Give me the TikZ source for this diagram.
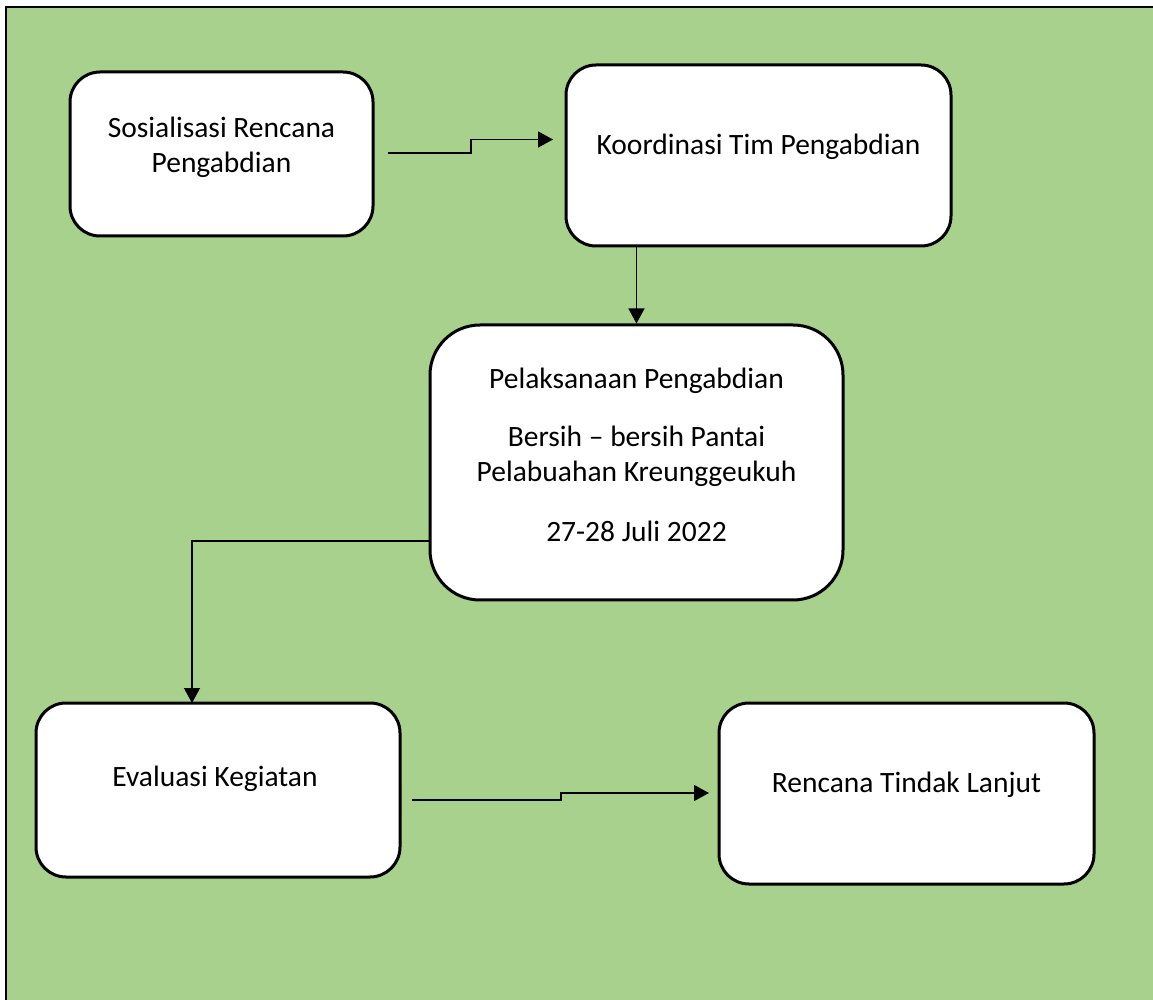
\documentclass[tikz,border=0pt]{standalone}
\usepackage{fontspec}
\setmainfont{Carlito}
\usetikzlibrary{arrows.meta,calc}
\definecolor{bggreen}{HTML}{A9D18E}
\tikzset{
  box/.style={draw=black, fill=white, line width=1.5pt, rounded corners=15pt, inner sep=0pt},
  txt/.style={inner sep=0pt, font=\fontsize{14.75}{17.5}\selectfont, align=center},
  conn/.style={draw=black, line width=0.7pt, -{Triangle[length=7.5pt,width=8pt]}}
}
\begin{document}
\begin{tikzpicture}[x=0.5pt,y=-0.5pt]
\useasboundingbox (0,0) rectangle (1153,1000);
\draw[fill=bggreen, line width=1.3pt] (6,7) rectangle (1170,1020);
% boxes
\node[box, minimum width=151.5pt, minimum height=82pt] (b1) at (221.5,154) {};
\node[box, minimum width=192.5pt, minimum height=90.5pt] (b2) at (758.5,155.5) {};
\node[box, rounded corners=25pt, minimum width=206.5pt, minimum height=137.5pt] (b3) at (636.5,462.5) {};
\node[box, minimum width=182pt, minimum height=87pt] (b4) at (218,790) {};
\node[box, minimum width=187.5pt, minimum height=90.5pt] (b5) at (906.5,793.5) {};
% texts
\node[txt] (t1) at (221.5,147) {Sosialisasi Rencana\\Pengabdian};
\node[txt] (t2) at (758.5,147) {Koordinasi Tim Pengabdian};
\node[txt] (t3a) at (636.5,381) {Pelaksanaan Pengabdian};
\node[txt] (t3b) at (636.5,436) {Bersih -- bersih Pantai};
\node[txt] (t3c) at (636.5,474) {Pelabuahan Kreunggeukuh};
\node[txt] (t3d) at (636.5,531) {27-28 Juli 2022};
\node[txt] (t4) at (215,779) {Evaluasi Kegiatan};
\node[txt] (t5) at (906.5,785) {Rencana Tindak Lanjut};
% connector end points
\coordinate (a1s) at (388,153);
\coordinate (a1m) at (471,153);
\coordinate (a1e) at (553,139.5);
\coordinate (a3s) at (430,541);
\coordinate (a3e) at (192,703);
\coordinate (a4s) at (412,800);
\coordinate (a4m) at (561,800);
\coordinate (a4e) at (709,793);
% connectors
\draw[conn] (a1s) -- (a1m) |- (a1e);
\draw[conn] (b2.south -| b3.north) -- (b3.north);
\draw[conn] (a3s) -| (a3e);
\draw[conn] (a4s) -- (a4m) |- (a4e);
\end{tikzpicture}
\end{document}
